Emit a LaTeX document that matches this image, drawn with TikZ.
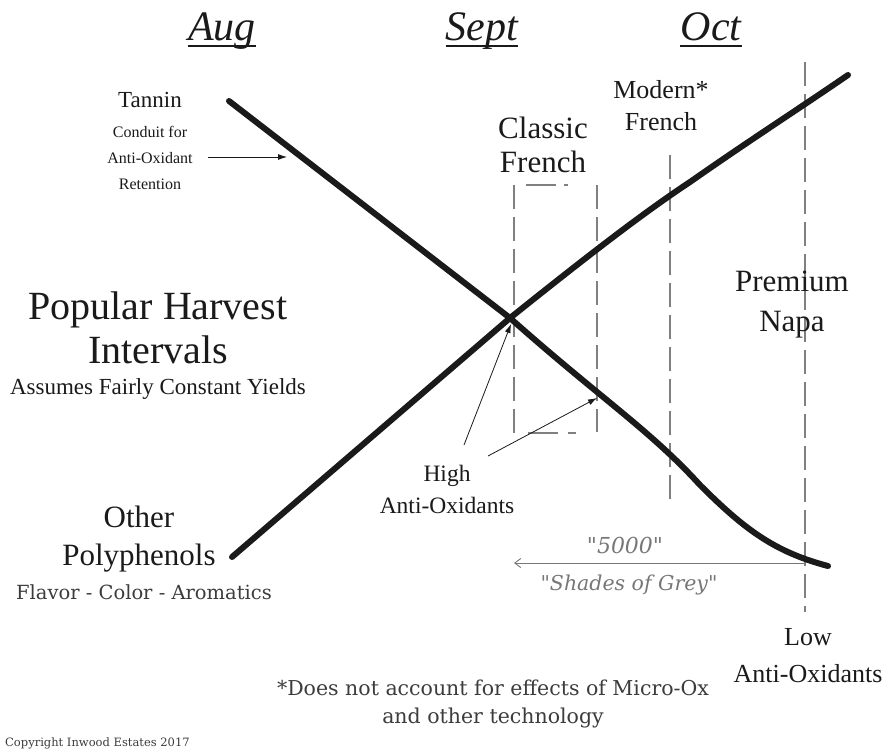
\documentclass[tikz,border=0pt]{standalone}
\usepackage{fontspec}
\setmainfont{Liberation Serif}
\newfontfamily\slab{DejaVu Serif}
\usetikzlibrary{arrows.meta}
\definecolor{ink}{HTML}{1A1A1A}
\definecolor{greytxt}{HTML}{777777}
\begin{document}
\begin{tikzpicture}[x=1pt,y=-1pt,
  every node/.style={inner sep=0pt, text=ink, align=center},
  month/.style={font=\fontsize{42}{46}\selectfont\itshape, anchor=base},
  uline/.style={line width=1.3pt, ink},
  curve/.style={line width=6pt, ink},
  guide/.style={line width=1.2pt, gray, dash pattern=on 24pt off 8pt},
  pointer/.style={line width=0.8pt, ink, -{Latex[length=9pt,width=6pt]}},
  slabtxt/.style={text=ink!85}
]
\useasboundingbox (0,0) rectangle (887,755);
\fill[white] (0,0) rectangle (887,755);

% months
\node[month] (aug) at (222,40) {Aug};
\node[month] (sept) at (482,40) {Sept};
\node[month] (oct) at (711,40) {Oct};
\draw[uline] ([yshift=-6pt]aug.base west) -- ([yshift=-6pt]aug.base east);
\draw[uline] ([yshift=-6pt]sept.base west) -- ([yshift=-6pt]sept.base east);
\draw[uline] ([yshift=-6pt]oct.base west) -- ([yshift=-6pt]oct.base east);

% guide lines
\coordinate (cfTL) at (514,185);
\coordinate (cfBL) at (514,436);
\coordinate (cfTR) at (597,185);
\coordinate (cfBR) at (597,432);
\draw[guide] (cfTL) -- (cfBL);
\draw[guide] (cfTR) -- (cfBR);
\coordinate (cfT1) at (526,185);
\coordinate (cfT2) at (576,185);
\draw[guide, dash pattern=on 30pt off 8pt on 4pt off 20pt] (cfT1) -- (cfT2);
\coordinate (cfB1) at (528,433);
\coordinate (cfB2) at (582,433);
\draw[guide, dash pattern=on 30pt off 10pt on 8pt off 20pt] (cfB1) -- (cfB2);
\coordinate (mfT) at (670,155);
\coordinate (mfB) at (670,502);
\draw[guide] (mfT) -- (mfB);
\coordinate (pnT) at (805,62);
\coordinate (pnB) at (805,612);
\draw[guide] (pnT) -- (pnB);

% curves
\coordinate (tanS) at (229,101);
\coordinate (cross) at (510,318);
\coordinate (tanE) at (828,566);
\coordinate (polS) at (232,557);
\coordinate (polE) at (848,75);
\draw[curve, line cap=round] (tanS) -- (cross)
  .. controls (600,398) and (650,430) .. (700,485)
  .. controls (745,530) and (775,552) .. (tanE);
\draw[curve, line cap=round] (polS) -- (cross)
  .. controls (580,262) and (640,215) .. (690,182)
  .. controls (750,140) and (800,108) .. (polE);

% labels
\node[font=\fontsize{23}{28}\selectfont] (tannin) at (150,100) {Tannin};
\node[font=\fontsize{16}{26}\selectfont] (conduit) at (150,158) {Conduit for\\Anti-Oxidant\\Retention};
\coordinate (tanArrowStart) at (208,157);
\coordinate (tanArrowEnd) at (287,157);
\draw[pointer] (tanArrowStart) -- (tanArrowEnd);

\node[font=\fontsize{31}{34}\selectfont] (classic) at (543,145) {Classic\\French};
\node[font=\fontsize{26}{32}\selectfont] (modern) at (661,106) {Modern*\\French};
\node[font=\fontsize{31}{40}\selectfont] (premium) at (792,305) {Premium\\Napa};

\node[font=\fontsize{40}{44}\selectfont] (popular) at (158,328) {Popular Harvest\\Intervals};
\node[font=\fontsize{23}{26}\selectfont] (assumes) at (158,389) {Assumes Fairly Constant Yields};

\node[font=\fontsize{31}{38}\selectfont] (other) at (139,539) {Other\\Polyphenols};
\node[slabtxt, font=\slab\fontsize{19.5}{24}\selectfont] (flavor) at (144,592) {Flavor - Color - Aromatics};

\node[font=\fontsize{23.5}{32}\selectfont] (high) at (447,489) {High\\Anti-Oxidants};
\coordinate (hiA1) at (464,445);
\coordinate (hiA2) at (488,456);
\coordinate (hiT1) at (511,324);
\coordinate (hiT2) at (597,398);
\draw[pointer] (hiA1) -- (hiT1);
\draw[pointer] (hiA2) -- (hiT2);

\node[font=\fontsize{26}{37}\selectfont] (low) at (808,656) {Low\\Anti-Oxidants};

% shades of grey arrow
\coordinate (sgR) at (805,563);
\coordinate (sgL) at (514,563);
\draw[line width=0.9pt, greytxt, -{Straight Barb[length=6pt,width=9pt]}] (sgR) -- (sgL);
\node[font=\slab\itshape\fontsize{22}{24}\selectfont, text=greytxt] (fivek) at (625,545) {"5000"};
\node[font=\slab\itshape\fontsize{20.5}{24}\selectfont, text=greytxt] (shades) at (629,585) {"Shades of Grey"};

\node[slabtxt, font=\slab\fontsize{20.5}{28}\selectfont] (note) at (493,704) {*Does not account for effects of Micro-Ox\\and other technology};
\node[slabtxt, font=\slab\fontsize{11.5}{14}\selectfont, anchor=west] (copy) at (5,743) {Copyright Inwood Estates 2017};
\end{tikzpicture}
\end{document}
